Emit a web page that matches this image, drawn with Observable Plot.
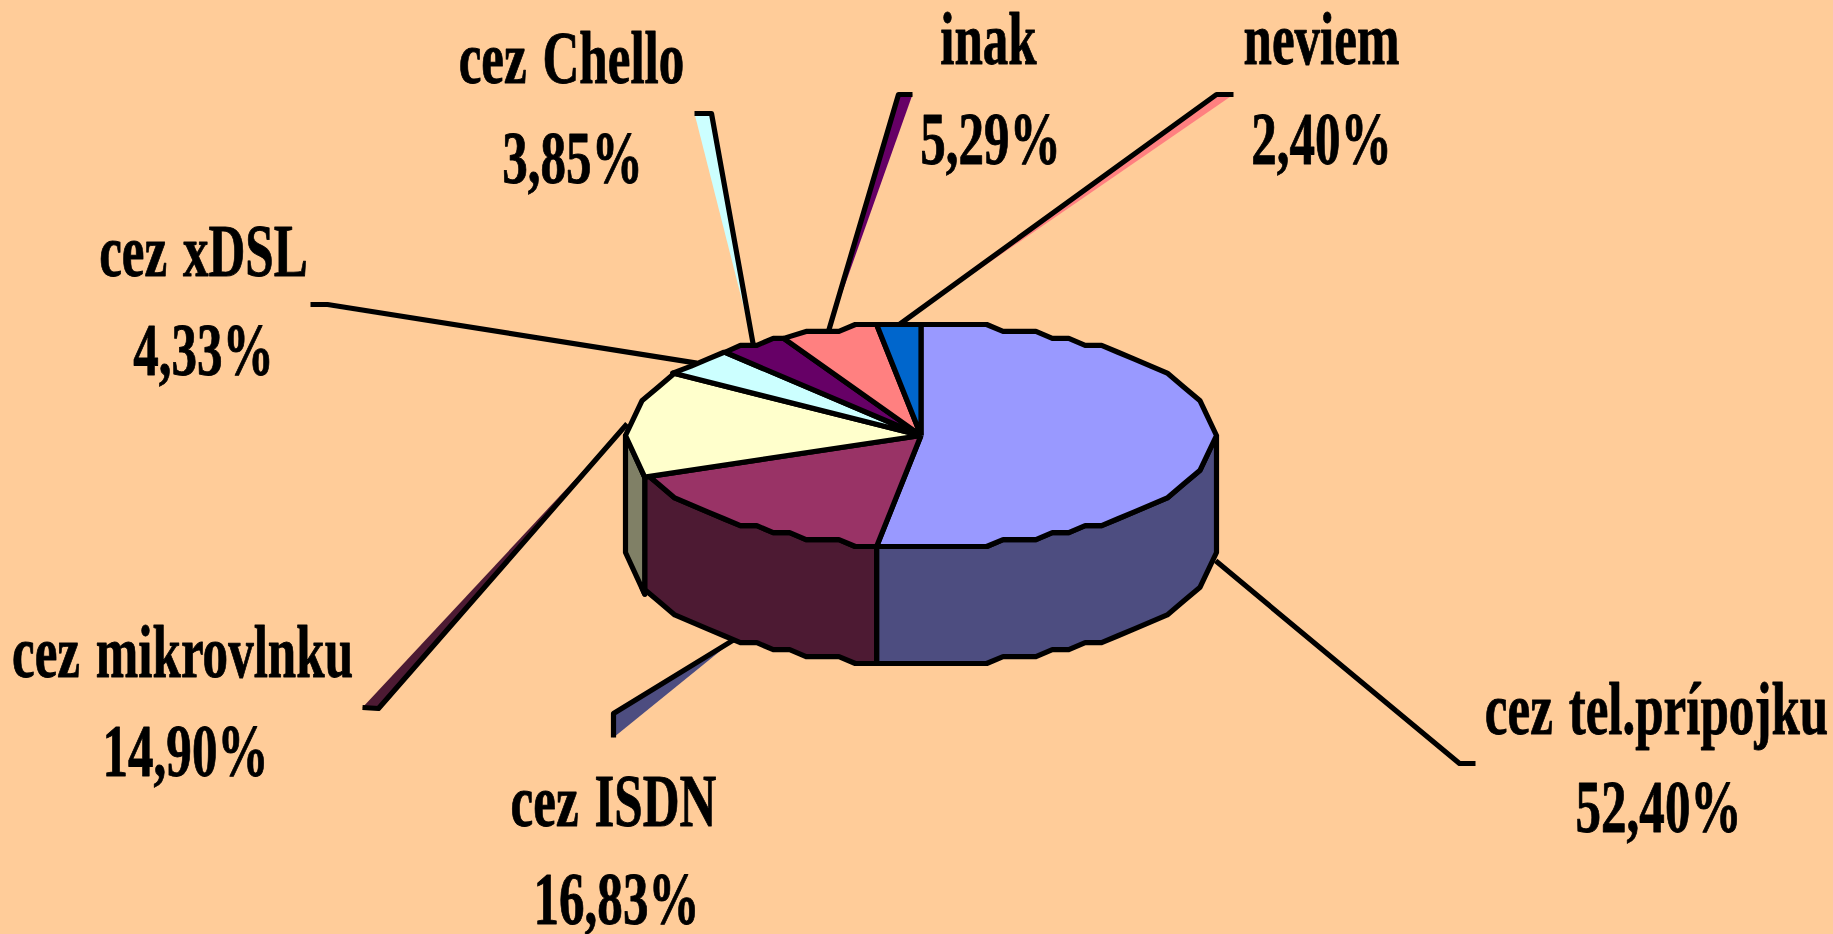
<!DOCTYPE html>
<html>
<head>
<meta charset="utf-8">
<script src="https://cdn.jsdelivr.net/npm/d3@7"></script>
<script src="https://cdn.jsdelivr.net/npm/@observablehq/plot@0.6"></script>
<style>
html,body{margin:0;padding:0;background:#ffcc99;overflow:hidden}
svg{display:block}
</style>
</head>
<body>
<div id="chart"></div>
<script>
// Data, clockwise from 12 o'clock
const categories = ["cez tel.prípojku","cez ISDN","cez mikrovlnku","cez xDSL","cez Chello","inak","neviem"];
const shares = [52.40,16.83,14.90,4.33,3.85,5.29,2.40];
const topColors = ["#9999ff","#993366","#ffffcc","#ccffff","#660066","#ff8080","#0066cc"];
const sideColors = ["#4d4d80","#4d1a33","#808066","#668080","#330033","#804040","#003366"];
const leaderTints = [null,"#4d4d80","#4d1a33","#ffffcc","#ccffff","#660066","#ff8080"];

// Layout of the drawing, in chart units
const W = 1833, H = 934;
const cx = 920.5, cy = 435, rx = 295.5, ry = 111, depth = 117;
const stepsX = 18, gridY = ry / 16;            // coarse stair-stepped outline of the original
const elbows = [[1459,763],[613,713],[378,708],[327,304],[711,113],[898,94],[1216,94]];
const ends   = [[1475,763],[613,737],[362,707],[310,304],[694,113],[912,94],[1233,94]];
const nameAt = [[1656,733],[613,825],[182,676],[203,275],[571,82],[988,63],[1321,63]];
const pctAt  = [[1658,831],[616,923],[185,775],[203,374],[572,182],[990,163],[1321,163]];

const total = d3.sum(shares);
let acc = 0;
const slices = shares.map((v,i)=>{
  const a0 = acc/total*360; acc += v; const a1 = acc/total*360;
  return {i, a0, a1, mid:(a0+a1)/2};
});
const rad = a=>a*Math.PI/180;
const rim = (a,dz=0)=>[cx+rx*Math.sin(rad(a)), cy-ry*Math.cos(rad(a))+dz];
const snapY = v=>Math.round(v/gridY)*gridY;
// slice ends keep their true x; in between the rim steps along a coarse x grid
const arc = (a0,a1,dz=0)=>{
  const pts=[[cx+rx*Math.sin(rad(a0)),cy+snapY(-ry*Math.cos(rad(a0)))+dz]];
  const n=Math.max(2,Math.ceil((a1-a0)/0.5));
  let last=Math.round(Math.sin(rad(a0))*stepsX);
  for(let k=1;k<n;k++){
    const a=a0+(a1-a0)*k/n;
    const idx=Math.round(Math.sin(rad(a))*stepsX);
    if(idx!==last){
      last=idx;
      const u=idx/stepsX, sign=Math.cos(rad(a))>=0?-1:1;
      pts.push([cx+rx*u, cy+snapY(sign*ry*Math.sqrt(1-u*u))+dz]);
    }
  }
  pts.push([cx+rx*Math.sin(rad(a1)),cy+snapY(-ry*Math.cos(rad(a1)))+dz]);
  return pts;
};
const topFace = s=>[[cx,cy],...arc(s.a0,s.a1),[cx,cy]];
const sideFace = s=>{
  const a0=Math.max(s.a0,90), a1=Math.min(s.a1,270);
  if(a1<=a0) return null;
  const t=arc(a0,a1), b=arc(a0,a1,depth).reverse();
  return [...t,...b,t[0]];
};
const leaderAnchor = s=>rim(s.mid,(s.mid>90&&s.mid<270)?depth:0);

const black = {stroke:"#000",strokeWidth:5.2,strokeLinejoin:"round",strokeLinecap:"butt"};
const poly = (pts,fill)=>Plot.line(pts,{x:d=>d[0],y:d=>d[1],fill:fill||"none",...black});

const marks = [];
// leader lines sit behind the pie
slices.forEach(s=>{
  marks.push(poly([leaderAnchor(s),elbows[s.i],ends[s.i]],leaderTints[s.i]));
});
// side wall
slices.forEach(s=>{const f=sideFace(s); if(f) marks.push(poly(f,sideColors[s.i]));});
// top face
slices.forEach(s=>marks.push(poly(topFace(s),topColors[s.i])));

const labelStyle = {text:"t",x:"x",y:"y",textAnchor:"middle",lineAnchor:"bottom",fontFamily:"Liberation Serif",fontWeight:700,fontSize:74,fill:"#000",stroke:"#000",strokeWidth:0.9};
const labels = categories.flatMap((c,i)=>[
  {t:c,x:nameAt[i][0],y:nameAt[i][1]},
  {t:shares[i].toFixed(2).replace(".",",")+"%",x:pctAt[i][0],y:pctAt[i][1]}
]);
marks.push(Plot.text(labels,labelStyle));

const plot = Plot.plot({
  width:W,height:H,margin:0,
  x:{domain:[0,W],range:[0,W],axis:null},
  y:{domain:[0,H],range:[0,H],axis:null},
  style:{background:"#ffcc99",overflow:"visible"},
  marks
});
document.getElementById("chart").append(plot);
// the original's lettering is a strongly condensed bold serif
d3.select(plot).selectAll("text").each(function(){
  const t=this.getAttribute("transform")||"";
  this.setAttribute("transform",t+" scale(0.69,1)");
  this.style.wordSpacing="0.06em";
});
</script>
</body>
</html>
